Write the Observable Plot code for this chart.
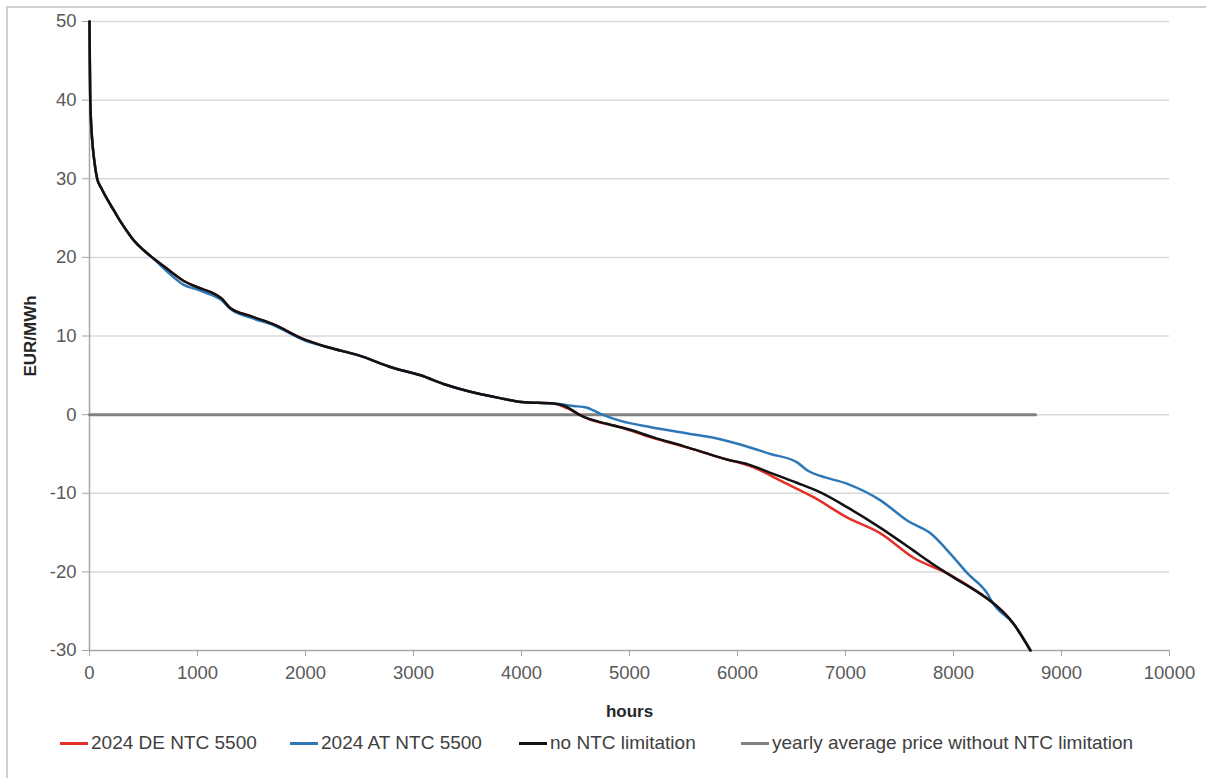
<!DOCTYPE html>
<html>
<head>
<meta charset="utf-8">
<script src="https://cdn.jsdelivr.net/npm/d3@7"></script>
<script src="https://cdn.jsdelivr.net/npm/@observablehq/plot@0.6"></script>
<style>
  html, body { margin: 0; padding: 0; background: #fff; }
  body { width: 1206px; height: 778px; position: relative; overflow: hidden; font-family: "Liberation Sans", Arial, sans-serif; }
  #frame { position: absolute; left: 6px; top: 6px; width: 1300px; height: 900px; border-left: 2px solid #cfcfcf; border-top: 2px solid #cfcfcf; }
  #chart { position: absolute; left: 0; top: 0; }
  #legend { position: absolute; left: 0; top: 732px; width: 1206px; height: 24px; font-size: 19px; color: #404040; }
  .item { position: absolute; top: 0; display: flex; align-items: center; white-space: nowrap; }
  .sw { width: 28px; height: 3px; margin-right: 3px; }
</style>
</head>
<body>
<div id="frame"></div>
<div id="chart"></div>
<div id="legend"></div>
<script>
// ---- data ----
const seriesNames = ["2024 DE NTC 5500", "2024 AT NTC 5500", "no NTC limitation", "yearly average price without NTC limitation"];
const seriesColors = ["#e3302b", "#2e78b7", "#111111", "#808080"];

const noNtcHours = [0, 3, 6, 9, 15, 25, 45, 71, 110, 164, 224, 280, 349, 420, 502, 580, 657, 760, 873, 1000, 1151, 1220, 1300, 1500, 1700, 2000, 2200, 2500, 2800, 3065, 3300, 3500, 3800, 4000, 4296, 4400, 4546, 4796, 5000, 5222, 5500, 5685, 5900, 6092, 6305, 6555, 6768, 7018, 7324, 7630, 7787, 8000, 8250, 8370, 8556, 8713];
const noNtcPrice = [50, 45, 41, 39.1, 37, 34.9, 32.2, 30, 28.8, 27.4, 26, 24.7, 23.3, 22, 20.9, 20.0, 19.2, 18.1, 17, 16.2, 15.4, 14.8, 13.6, 12.5, 11.5, 9.5, 8.6, 7.5, 6, 5.0, 3.8, 3.0, 2.1, 1.6, 1.4, 1.1, -0.1, -1.2, -1.9, -2.9, -4.0, -4.8, -5.7, -6.3, -7.4, -8.7, -9.9, -11.8, -14.4, -17.3, -18.8, -20.7, -22.8, -24, -26.6, -30];

const deHours = [0, 3, 6, 9, 15, 25, 45, 71, 110, 164, 224, 280, 349, 420, 502, 580, 657, 760, 873, 1000, 1151, 1220, 1300, 1500, 1700, 2000, 2200, 2500, 2800, 3065, 3300, 3500, 3800, 4000, 4296, 4426, 4611, 4917, 5200, 5537, 5850, 6148, 6398, 6704, 7018, 7324, 7630, 7944, 8250, 8370, 8556, 8713];
const dePrice = [50, 45, 41, 39.1, 37, 34.9, 32.2, 30, 28.8, 27.4, 26, 24.7, 23.3, 22, 20.9, 20.0, 19.2, 18.1, 17, 16.2, 15.4, 14.8, 13.6, 12.5, 11.5, 9.5, 8.6, 7.5, 6, 5.0, 3.8, 3.0, 2.1, 1.6, 1.4, 0.8, -0.5, -1.6, -2.9, -4.2, -5.5, -6.7, -8.4, -10.5, -13.1, -15.1, -18.2, -20.2, -22.8, -24, -26.6, -30];

const atHours = [0, 3, 6, 9, 15, 25, 45, 71, 110, 164, 224, 280, 349, 420, 502, 580, 657, 760, 873, 1000, 1151, 1220, 1300, 1500, 1700, 2000, 2200, 2500, 2800, 3065, 3300, 3500, 3800, 4000, 4296, 4481, 4600, 4731, 4917, 5200, 5537, 5800, 6000, 6305, 6555, 6648, 6768, 7018, 7324, 7574, 7787, 7972, 8130, 8315, 8361, 8556, 8713];
const atPrice = [50, 45, 41, 39.1, 37, 34.9, 32.2, 30, 28.8, 27.4, 26, 24.7, 23.3, 22, 20.9, 20.0, 19.0, 17.7, 16.5, 15.9, 15.1, 14.6, 13.5, 12.3, 11.4, 9.4, 8.6, 7.5, 6, 5.0, 3.8, 3.0, 2.1, 1.6, 1.4, 1.1, 0.9, 0.1, -0.8, -1.6, -2.4, -3.0, -3.7, -5.0, -6.1, -7.1, -7.8, -8.8, -10.9, -13.5, -15.1, -17.7, -20.2, -22.8, -23.9, -26.6, -30];

const avgHours = [0, 8760];
const avgPrice = [0, 0];

const xTicks = [0, 1000, 2000, 3000, 4000, 5000, 6000, 7000, 8000, 9000, 10000];
const yTicks = [-30, -20, -10, 0, 10, 20, 30, 40, 50];

// ---- build tables ----
const toRows = (hs, ps) => hs.map((h, i) => ({hour: h, price: ps[i]}));
const deRows = toRows(deHours, dePrice);
const atRows = toRows(atHours, atPrice);
const noRows = toRows(noNtcHours, noNtcPrice);
const avgRows = toRows(avgHours, avgPrice);

const tickFont = {fontSize: 18.5, fill: "#595959"};

const chart = Plot.plot({
  width: 1206,
  height: 722,
  marginLeft: 89,
  marginRight: 37,
  marginTop: 21,
  marginBottom: 72,
  style: {fontFamily: "Liberation Sans, Arial, sans-serif", background: "transparent", overflow: "visible"},
  x: {domain: [0, 10000]},
  y: {domain: [-30, 50]},
  marks: [
    Plot.ruleY(yTicks.filter(d => d !== -30), {stroke: "#d9d9d9", strokeWidth: 1.5}),
    Plot.ruleX([0], {stroke: "#a6a6a6", strokeWidth: 1.5}),
    Plot.ruleY([-30], {stroke: "#a6a6a6", strokeWidth: 1.5}),
    Plot.axisX({ticks: xTicks, tickFormat: d => String(d), tickSize: 6, tickPadding: 9, stroke: "#a6a6a6", ...tickFont,
      label: "hours", labelAnchor: "center", labelArrow: "none", labelOffset: 66}),
    Plot.axisY({ticks: yTicks, tickFormat: d => String(d), tickSize: 7, tickPadding: 6, stroke: "#a6a6a6", ...tickFont,
      label: "EUR/MWh", labelAnchor: "center", labelArrow: "none", labelOffset: 66}),
    Plot.lineY(avgRows, {x: "hour", y: "price", stroke: seriesColors[3], strokeWidth: 3}),
    Plot.lineY(deRows, {x: "hour", y: "price", stroke: seriesColors[0], strokeWidth: 2.5, curve: "monotone-x"}),
    Plot.lineY(atRows, {x: "hour", y: "price", stroke: seriesColors[1], strokeWidth: 2.5, curve: "monotone-x"}),
    Plot.lineY(noRows, {x: "hour", y: "price", stroke: seriesColors[2], strokeWidth: 2.5, curve: "monotone-x"})
  ]
});
document.getElementById("chart").appendChild(chart);

// style axis labels (bold, dark)
chart.querySelectorAll("g[aria-label='x-axis label'] text, g[aria-label='y-axis label'] text").forEach(t => {
  t.setAttribute("font-weight", "bold");
  t.setAttribute("fill", "#262626");
  t.setAttribute("font-size", "17");
});

// ---- legend ----
const legendX = [60, 290, 519, 741];
const legend = document.getElementById("legend");
seriesNames.forEach((name, i) => {
  const it = document.createElement("div");
  it.className = "item";
  it.style.left = legendX[i] + "px";
  const sw = document.createElement("span");
  sw.className = "sw";
  sw.style.background = seriesColors[i];
  const tx = document.createElement("span");
  tx.textContent = name;
  it.appendChild(sw);
  it.appendChild(tx);
  legend.appendChild(it);
});
</script>
</body>
</html>
